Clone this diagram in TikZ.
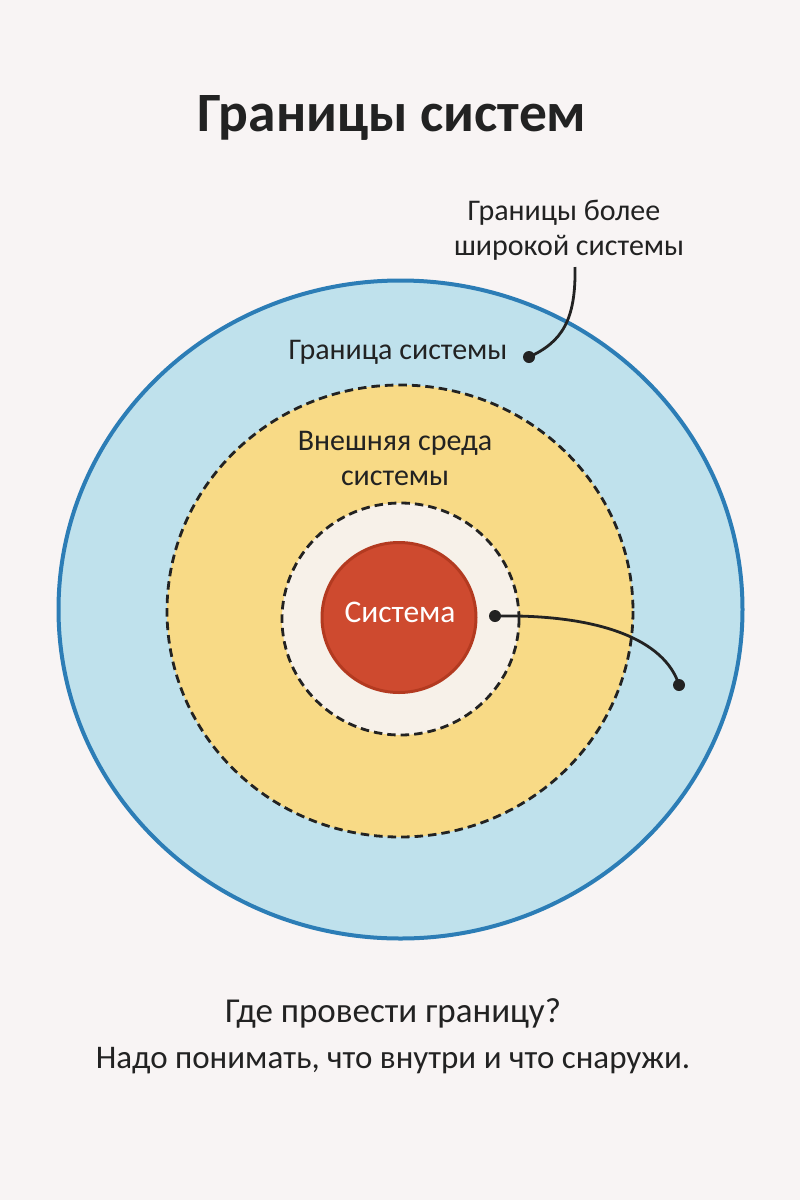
\documentclass[tikz,border=0pt]{standalone}
\usepackage{fontspec}
\setmainfont{Carlito}
\definecolor{bgc}{HTML}{F8F4F4}
\definecolor{bluef}{HTML}{BFE1EC}
\definecolor{bluel}{HTML}{2C7DB6}
\definecolor{yelf}{HTML}{F8DA86}
\definecolor{innf}{HTML}{F7F1E9}
\definecolor{redf}{HTML}{CE4A2F}
\definecolor{redl}{HTML}{B33A20}
\definecolor{inkc}{HTML}{222222}
\begin{document}
\begin{tikzpicture}[x=1pt,y=-1pt,
  lbl/.style={font=\fontsize{30}{34}\selectfont, text=inkc, inner sep=0pt, anchor=base},
  ttl/.style={font=\bfseries\fontsize{55.5}{62}\selectfont, text=inkc, inner sep=0pt, anchor=base},
  btm/.style={font=\fontsize{33}{38}\selectfont, text=inkc, inner sep=0pt, anchor=base},
  dashring/.style={draw=inkc, line width=2.8pt, dash pattern=on 8.5pt off 5pt},
  leader/.style={draw=inkc, line width=2.8pt},
  dotc/.style={circle, fill=inkc, minimum size=12pt, inner sep=0pt}
]
\fill[bgc] (0,0) rectangle (800,1200);
\useasboundingbox (0,0) rectangle (800,1200);
% rings
\draw[fill=bluef, draw=bluel, line width=4pt] (400.5,609.5) ellipse [x radius=342, y radius=329];
\fill[yelf] (400,611) ellipse [x radius=233, y radius=226];
\draw[dashring] (400,611) ellipse [x radius=233, y radius=226];
\fill[innf] (400.5,619) ellipse [x radius=118.5, y radius=116];
\draw[dashring] (400.5,619) ellipse [x radius=118.5, y radius=116];
\draw[fill=redf, draw=redl, line width=3pt] (399,617.5) ellipse [x radius=77, y radius=75];
% texts
\node[ttl] (title) at (392,131) {Границы систем};
\node[lbl] (wider1) at (564,220) {Границы более};
\node[lbl] (wider2) at (569,255) {широкой системы};
\node[lbl] (bound) at (398,359) {Граница системы};
\node[lbl] (env1) at (395,450) {Внешняя среда};
\node[lbl] (env2) at (395,485) {системы};
\node[lbl, font=\fontsize{31.5}{34}\selectfont, text=white] (sys) at (400,622) {Система};
\node[btm, font=\fontsize{35}{38}\selectfont] (q) at (393,1022) {Где провести границу?};
\node[btm] (n) at (393,1068) {Надо понимать, что внутри и что снаружи.};
% leaders
\coordinate (w) at (575,267);
\node[dotc] (d1) at (529,357) {};
\node[dotc] (d2) at (495,616) {};
\node[dotc] (d3) at (679,685) {};
\draw[leader] (w) .. controls (576,320) and (562,342) .. (d1.center);
\draw[leader] (d2.center) .. controls (600,614) and (665,640) .. (d3.center);
\end{tikzpicture}
\end{document}
